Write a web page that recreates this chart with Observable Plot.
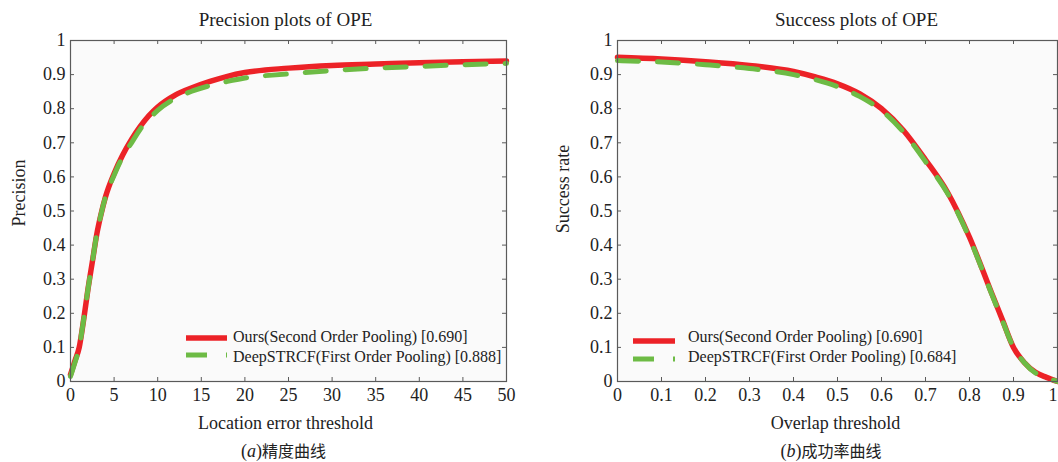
<!DOCTYPE html>
<html><head><meta charset="utf-8">
<script src="https://cdn.jsdelivr.net/npm/d3@7"></script>
<script src="https://cdn.jsdelivr.net/npm/@observablehq/plot@0.6"></script>
<style>
html,body{margin:0;padding:0;background:#fff;}
#wrap{position:relative;width:1058px;height:462px;overflow:hidden;font-family:"Liberation Serif",serif;color:#222;}
.abs{position:absolute;white-space:nowrap;}
.leg{font-size:16px;line-height:20px;font-family:"Liberation Serif",serif;}
.cap{font-size:18px;line-height:18px;transform:translateX(-50%);font-family:"Liberation Serif",serif;}
.cap .zh{font-family:"Noto Sans CJK SC",sans-serif;font-size:16px;line-height:18px;}
</style></head>
<body><div id="wrap"></div>
<script>
// ---- data: Precision plot (a)
const precThreshold = [0,0.5,1,1.5,2,2.5,3,3.5,4,5,6,7,8,9,10,12,14,16,18,20,25,30,35,40,45,50];
const precOurs      = [0.02,0.06,0.10,0.18,0.27,0.35,0.43,0.49,0.54,0.61,0.665,0.71,0.748,0.78,0.805,0.84,0.862,0.880,0.895,0.906,0.919,0.927,0.931,0.935,0.938,0.940];
const precDeep      = [0.015,0.055,0.10,0.18,0.27,0.35,0.43,0.49,0.54,0.605,0.66,0.70,0.74,0.77,0.795,0.83,0.852,0.868,0.880,0.890,0.902,0.912,0.919,0.924,0.929,0.933];
// ---- data: Success plot (b)
const succThreshold = [0,0.1,0.2,0.3,0.4,0.45,0.5,0.55,0.6,0.65,0.7,0.75,0.8,0.85,0.875,0.9,0.925,0.95,0.975,1];
const succOurs      = [0.951,0.946,0.938,0.927,0.909,0.893,0.873,0.844,0.80,0.736,0.65,0.555,0.423,0.26,0.18,0.10,0.055,0.027,0.012,0];
const succDeep      = [0.941,0.937,0.929,0.918,0.900,0.885,0.865,0.836,0.795,0.731,0.645,0.552,0.42,0.258,0.178,0.10,0.055,0.025,0.012,0];
// ---- ticks / labels
const xTicksA = [0,5,10,15,20,25,30,35,40,45,50];
const xTickLabelsA = ["0","5","10","15","20","25","30","35","40","45","50"];
const unitTicks = [0,0.1,0.2,0.3,0.4,0.5,0.6,0.7,0.8,0.9,1];
const unitTickLabels = ["0","0.1","0.2","0.3","0.4","0.5","0.6","0.7","0.8","0.9","1"];
const seriesNames = ["Ours(Second Order Pooling)","DeepSTRCF(First Order Pooling)"];
const scoresA = ["[0.690]","[0.888]"];
const scoresB = ["[0.690]","[0.684]"];
const titles = ["Precision plots of OPE","Success plots of OPE"];
const xLabels = ["Location error threshold","Overlap threshold"];
const yLabels = ["Precision","Success rate"];
const captions = [["a","精度曲线"],["b","成功率曲线"]];

const RED = "#ec2227", GREEN = "#6dbb45", FRAME = "#5a5a5a";
const DASH = "21,19";

function rows(xs, ys){ return xs.map((x,i)=>({x, y: ys[i]})); }

function makePlot(o){
  const H = 462, mt = 40, mb = 81;
  const fh = H - mt - mb, fw = o.width - o.ml - o.mr;
  const xFmt = d => o.xLabelsT[o.xTicks.indexOf(d)];
  const yFmt = d => unitTickLabels[unitTicks.indexOf(d)];
  const lastX = o.xTicks[o.xTicks.length - 1];
  const xAxes = o.lastEnd
    ? [Plot.axisX(o.xTicks.slice(0, -1), {tickSize: 0, tickPadding: 7, label: null, fontSize: 18, tickFormat: xFmt}),
       Plot.axisX([lastX], {tickSize: 0, tickPadding: 7, label: null, fontSize: 18, tickFormat: xFmt, textAnchor: "end"})]
    : [Plot.axisX(o.xTicks, {tickSize: 0, tickPadding: 7, label: null, fontSize: 18, tickFormat: xFmt})];
  return Plot.plot({
    width: o.width, height: H,
    marginLeft: o.ml, marginRight: o.mr, marginTop: mt, marginBottom: mb,
    style: {fontFamily: "Liberation Serif", fontSize: "18px", background: "transparent", color: "#222", overflow: "hidden"},
    x: {domain: o.xDomain},
    y: {domain: [0,1]},
    marks: [
      Plot.frame({fill: "#fafafa", stroke: null}),
      Plot.line(rows(o.xs, o.red), {x: "x", y: "y", stroke: RED, strokeWidth: 5.5, curve: "monotone-x"}),
      Plot.line(rows(o.xs, o.green), {x: "x", y: "y", stroke: GREEN, strokeWidth: 5, strokeDasharray: DASH, curve: "monotone-x"}),
      Plot.tickX(o.xTicks, {x: d => d, stroke: FRAME, insetTop: fh - 4}),
      Plot.tickX(o.xTicks, {x: d => d, stroke: FRAME, insetBottom: fh - 4}),
      Plot.tickY(unitTicks, {y: d => d, stroke: FRAME, insetRight: fw - 4}),
      Plot.tickY(unitTicks, {y: d => d, stroke: FRAME, insetLeft: fw - 4}),
      Plot.frame({stroke: FRAME, strokeWidth: 1.2}),
      ...xAxes,
      Plot.axisY(unitTicks, {tickSize: 0, tickPadding: 5, label: null, fontSize: 18, tickFormat: yFmt}),
      Plot.text([o.title], {text: d => d, frameAnchor: "top", dy: -21, dx: o.titleDx, lineAnchor: "middle", textAnchor: "middle", fontSize: 19, fill: "#222"}),
      Plot.text([o.xLabel], {text: d => d, frameAnchor: "bottom", dy: 42, dx: o.xlDx, lineAnchor: "middle", textAnchor: "middle", fontSize: 18, fill: "#222"}),
      Plot.text([o.yLabel], {text: d => d, frameAnchor: "left", dx: o.ylDx, dy: o.ylDy, rotate: -90, lineAnchor: "middle", textAnchor: "middle", fontSize: 18, fill: "#222"})
    ]
  });
}

const wrap = document.getElementById("wrap");

const pA = makePlot({width: 530, ml: 70, mr: 24, xDomain: [0,50], xTicks: xTicksA, xLabelsT: xTickLabelsA,
  xs: precThreshold, red: precOurs, green: precDeep, title: titles[0], titleDx: -3,
  xLabel: xLabels[0], xlDx: -3, yLabel: yLabels[0], ylDx: -51, ylDy: -18, lastEnd: false});
pA.style.position = "absolute"; pA.style.left = "0px"; pA.style.top = "0px";
wrap.appendChild(pA);

const pB = makePlot({width: 528, ml: 87, mr: 1, xDomain: [0,1], xTicks: unitTicks, xLabelsT: unitTickLabels,
  xs: succThreshold, red: succOurs, green: succDeep, title: titles[1], titleDx: 19,
  xLabel: xLabels[1], xlDx: -2, yLabel: yLabels[1], ylDx: -54, ylDy: -22, lastEnd: true});
pB.style.position = "absolute"; pB.style.left = "530px"; pB.style.top = "0px";
wrap.appendChild(pB);

// legends
function legend(x0, lineLen, textX, redY, greenY, textY0, scores){
  const cols = [RED, GREEN];
  const ys = [redY, greenY];
  seriesNames.forEach((name, i) => {
    const s = document.createElementNS("http://www.w3.org/2000/svg","svg");
    s.setAttribute("width", lineLen); s.setAttribute("height", 10);
    s.style.position = "absolute"; s.style.left = x0 + "px"; s.style.top = (ys[i] - 5) + "px";
    const l = document.createElementNS("http://www.w3.org/2000/svg","line");
    l.setAttribute("x1", 0); l.setAttribute("x2", lineLen); l.setAttribute("y1", 5); l.setAttribute("y2", 5);
    l.setAttribute("stroke", cols[i]); l.setAttribute("stroke-width", i ? 5 : 5.5);
    if (i) l.setAttribute("stroke-dasharray", DASH);
    s.appendChild(l); wrap.appendChild(s);
    const t = document.createElement("div");
    t.className = "abs leg"; t.style.left = textX + "px"; t.style.top = (textY0 + i * 20 - 10) + "px";
    t.textContent = name + " " + scores[i];
    wrap.appendChild(t);
  });
}
legend(186, 41, 233, 337.5, 355, 337, scoresA);
legend(633, 42, 688, 341, 359, 337, scoresB);

// captions
[283.5, 831].forEach((cx, i) => {
  const d = document.createElement("div");
  d.className = "abs cap"; d.style.left = cx + "px"; d.style.top = "441px";
  d.innerHTML = "(<i>" + captions[i][0] + "</i>)<span class='zh'>" + captions[i][1] + "</span>";
  wrap.appendChild(d);
});
</script></body></html>
